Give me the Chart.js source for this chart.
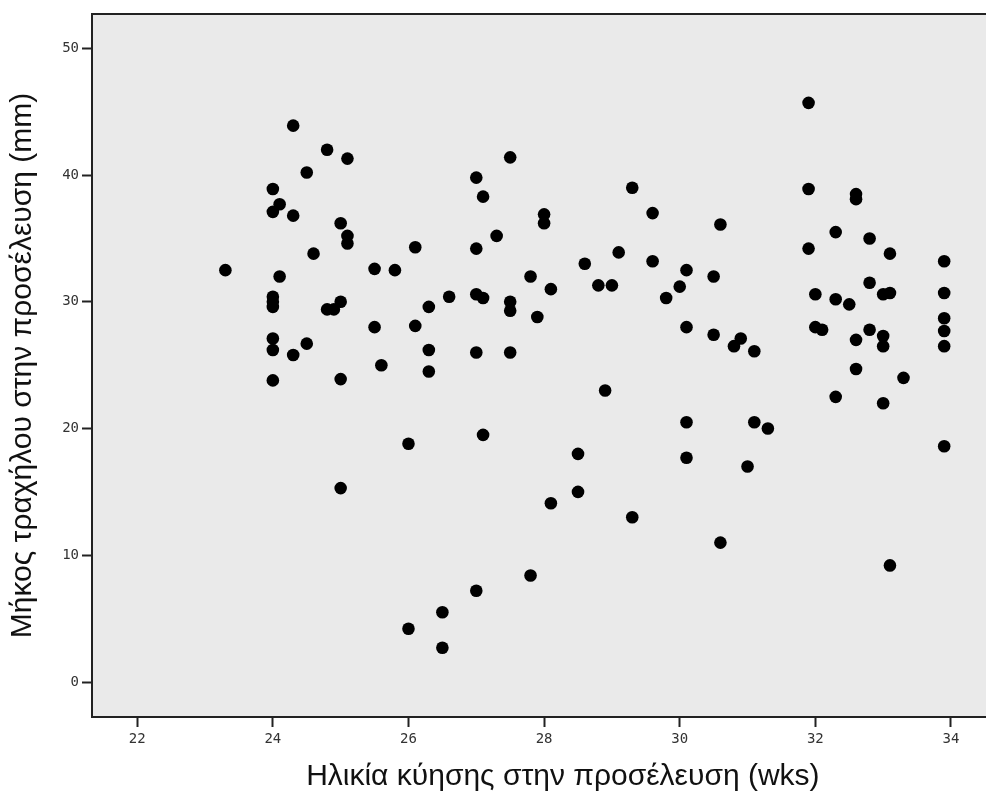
<!DOCTYPE html>
<html>
<head>
<meta charset="utf-8">
<title>Μήκος τραχήλου / ηλικία κύησης</title>
<script src="https://cdn.jsdelivr.net/npm/chart.js@4.4.1/dist/chart.umd.min.js"></script>
<style>
  html, body { margin: 0; padding: 0; background: #fff; overflow: hidden; }
  #wrap { width: 986px; height: 802px; overflow: hidden; }
  #scatter { display: block; }
</style>
</head>
<body>
<div id="wrap"><canvas id="scatter" width="1040" height="802"></canvas></div>
<script>
// gestational age at presentation (wks) and cervical length (mm)
const weeks = [
  23.3, 24.0, 24.0, 24.0, 24.0, 24.0, 24.0, 24.0, 24.0, 24.1,
  24.1, 24.3, 24.3, 24.3, 24.5, 24.5, 24.6, 24.8, 24.8, 24.9,
  25.1, 25.0, 25.1, 25.1, 25.0, 25.0, 25.0, 25.5, 25.8, 26.1,
  25.5, 25.6, 26.1, 26.3, 26.6, 26.3, 26.3, 26.0, 26.0, 26.5,
  26.5, 27.0, 27.0, 27.1, 27.5, 27.3, 27.0, 27.0, 27.1, 27.5,
  27.5, 27.0, 27.5, 27.1, 28.0, 28.0, 27.8, 28.1, 27.9, 27.8,
  28.1, 28.5, 28.5, 28.6, 28.8, 29.0, 29.1, 29.3, 29.6, 29.6,
  29.8, 28.9, 29.3, 30.0, 30.1, 30.5, 30.6, 30.1, 30.5, 30.9,
  30.8, 31.1, 30.1, 30.1, 31.1, 31.3, 31.0, 30.6, 31.9, 31.9,
  31.9, 32.6, 32.6, 32.3, 32.8, 33.1, 33.9, 32.0, 32.3, 32.5,
  32.8, 33.0, 33.1, 33.9, 32.0, 32.1, 32.8, 32.6, 33.0, 33.0,
  33.9, 33.9, 33.9, 32.6, 33.3, 32.3, 33.0, 33.9, 33.1
];
const cervixMm = [
  32.5, 38.9, 37.1, 30.4, 30.0, 29.6, 27.1, 26.2, 23.8, 37.7,
  32.0, 43.9, 36.8, 25.8, 40.2, 26.7, 33.8, 42.0, 29.4, 29.4,
  41.3, 36.2, 35.2, 34.6, 30.0, 23.9, 15.3, 32.6, 32.5, 34.3,
  28.0, 25.0, 28.1, 29.6, 30.4, 26.2, 24.5, 18.8, 4.2, 5.5,
  2.7, 7.2, 39.8, 38.3, 41.4, 35.2, 34.2, 30.6, 30.3, 30.0,
  29.3, 26.0, 26.0, 19.5, 36.9, 36.2, 32.0, 31.0, 28.8, 8.4,
  14.1, 18.0, 15.0, 33.0, 31.3, 31.3, 33.9, 39.0, 37.0, 33.2,
  30.3, 23.0, 13.0, 31.2, 32.5, 32.0, 36.1, 28.0, 27.4, 27.1,
  26.5, 26.1, 20.5, 17.7, 20.5, 20.0, 17.0, 11.0, 45.7, 38.9,
  34.2, 38.5, 38.1, 35.5, 35.0, 33.8, 33.2, 30.6, 30.2, 29.8,
  31.5, 30.6, 30.7, 30.7, 28.0, 27.8, 27.8, 27.0, 27.3, 26.5,
  28.7, 27.7, 26.5, 24.7, 24.0, 22.5, 22.0, 18.6, 9.2
];
const xTicks = [22, 24, 26, 28, 30, 32, 34];
const yTicks = [0, 10, 20, 30, 40, 50];
const xTitle = 'Ηλικία κύησης στην προσέλευση (wks)';
const yTitle = 'Μήκος τραχήλου στην προσέλευση (mm)';

const points = weeks.map((w, i) => ({ x: w, y: cervixMm[i] }));

// grey plot panel + top frame line
const plotFrame = {
  id: 'plotFrame',
  beforeDraw(chart) {
    const { ctx, chartArea: a } = chart;
    ctx.save();
    ctx.fillStyle = '#eaeaea';
    ctx.fillRect(a.left, a.top, a.right - a.left, a.bottom - a.top);
    ctx.restore();
  },
  afterDraw(chart) {
    const { ctx, chartArea: a } = chart;
    ctx.save();
    ctx.strokeStyle = '#222';
    ctx.lineWidth = 2;
    ctx.beginPath();
    ctx.moveTo(a.left - 1, a.top);
    ctx.lineTo(a.right, a.top);
    ctx.stroke();
    ctx.restore();
  }
};

const tickFont = { family: 'DejaVu Sans Mono', size: 14 };
const titleFont = { family: 'Liberation Sans', size: 30 };

new Chart(document.getElementById('scatter'), {
  type: 'scatter',
  data: {
    datasets: [{
      data: points,
      backgroundColor: '#000',
      borderWidth: 0,
      pointRadius: 6.3,
      pointHoverRadius: 6.3
    }]
  },
  options: {
    responsive: false,
    animation: false,
    devicePixelRatio: 1,
    layout: { padding: { top: 14, right: 6, left: 0, bottom: 0 } },
    plugins: {
      legend: { display: false },
      tooltip: { enabled: false }
    },
    scales: {
      x: {
        type: 'linear',
        min: 21.333,
        max: 35.22,
        afterFit: s => { s.height = 85; },
        afterBuildTicks: s => { s.ticks = xTicks.map(v => ({ value: v })); },
        grid: { drawOnChartArea: false, drawTicks: true, tickLength: 10, tickWidth: 2, tickColor: '#222' },
        border: { display: true, color: '#222', width: 2 },
        ticks: { font: tickFont, color: '#333', padding: 4, maxRotation: 0 },
        title: { display: true, text: xTitle, font: titleFont, color: '#111', padding: { top: 0, bottom: 7 } }
      },
      y: {
        type: 'linear',
        min: -2.76,
        max: 52.71,
        afterFit: s => { s.width = 92; },
        afterBuildTicks: s => { s.ticks = yTicks.map(v => ({ value: v })); },
        grid: { drawOnChartArea: false, drawTicks: true, tickLength: 10, tickWidth: 2, tickColor: '#222' },
        border: { display: true, color: '#222', width: 2 },
        ticks: { font: tickFont, color: '#333', padding: 3 },
        title: { display: true, text: yTitle, font: titleFont, color: '#111', padding: { top: 5, bottom: 0 } }
      }
    }
  },
  plugins: [plotFrame]
});
</script>
</body>
</html>
